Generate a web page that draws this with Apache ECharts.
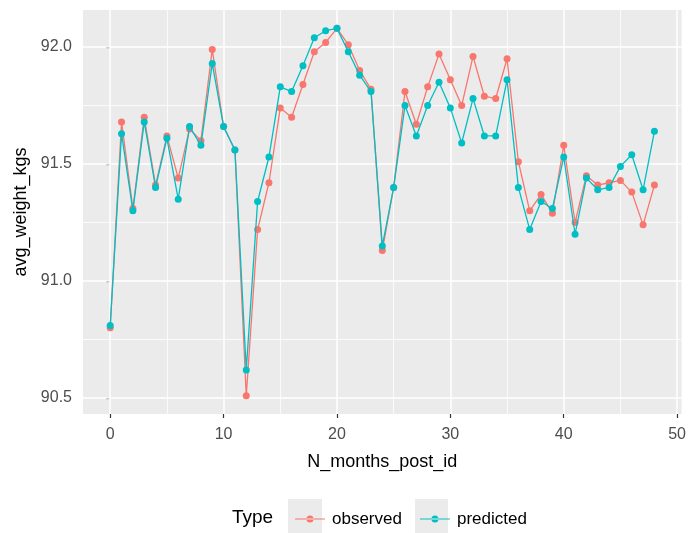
<!DOCTYPE html>
<html>
<head>
<meta charset="utf-8">
<script src="https://cdn.jsdelivr.net/npm/echarts@6/dist/echarts.min.js"></script>
<style>
html,body{margin:0;padding:0;background:#fff;}
#chart{width:689px;height:533px;}
</style>
</head>
<body>
<div id="chart"></div>
<script>
const months = [0,1,2,3,4,5,6,7,8,9,10,11,12,13,14,15,16,17,18,19,20,21,22,23,24,25,26,27,28,29,30,31,32,33,34,35,36,37,38,39,40,41,42,43,44,45,46,47,48];
const observed = [90.80,91.68,91.31,91.70,91.41,91.62,91.44,91.65,91.60,91.99,
  91.66,91.56,90.51,91.22,91.42,91.74,91.70,91.84,91.98,92.02,
  92.08,92.01,91.90,91.82,91.13,91.40,91.81,91.67,91.83,91.97,
  91.86,91.75,91.96,91.79,91.78,91.95,91.51,91.30,91.37,91.29,
  91.58,91.25,91.45,91.41,91.42,91.43,91.38,91.24,91.41];
const predicted = [90.81,91.63,91.30,91.68,91.40,91.61,91.35,91.66,91.58,91.93,
  91.66,91.56,90.62,91.34,91.53,91.83,91.81,91.92,92.04,92.07,
  92.08,91.98,91.88,91.81,91.15,91.40,91.75,91.62,91.75,91.85,
  91.74,91.59,91.78,91.62,91.62,91.86,91.40,91.22,91.34,91.31,
  91.53,91.20,91.44,91.39,91.40,91.49,91.54,91.39,91.64];
const xTicks = [0,10,20,30,40,50];
const xMinor = [5,15,25,35,45];
const yTicks = [90.5,91.0,91.5,92.0];
const yMinor = [90.75,91.25,91.75];
const seriesNames = ['observed','predicted'];
const seriesColors = ['#F8766D','#00BFC4'];

const allY = observed.concat(predicted);
const yMinD = Math.min(...allY), yMaxD = Math.max(...allY);
const yPad = (yMaxD - yMinD) * 0.05;
const xMinD = Math.min(...months), xMaxD = Math.max(...months);
const xPad = (xMaxD - xMinD) * 0.05;

const chart = echarts.init(document.getElementById('chart'), null, {renderer:'canvas'});
const font = 'Liberation Sans, Arial, sans-serif';
const mk = (vals) => months.map((m,i)=>[m, vals[i]]);

const gridLines = []
  .concat(xTicks.map(v=>({xAxis:v, lineStyle:{color:'#fff', width:1.5, type:'solid'}})))
  .concat(xMinor.map(v=>({xAxis:v, lineStyle:{color:'#fff', width:0.8, type:'solid'}})))
  .concat(yTicks.map(v=>({yAxis:v, lineStyle:{color:'#fff', width:1.5, type:'solid'}})))
  .concat(yMinor.map(v=>({yAxis:v, lineStyle:{color:'#fff', width:0.8, type:'solid'}})));

const axisCommon = {
  axisLine:{show:false},
  splitLine:{show:false},
  minorSplitLine:{show:false},
  nameTextStyle:{fontFamily:font, fontSize:18, color:'#000'}
};

chart.setOption({
  backgroundColor:'#ffffff',
  animation:false,
  grid:{left:83, right:6, top:10, bottom:119, show:true, backgroundColor:'#EBEBEB', borderWidth:0},
  xAxis:Object.assign({}, axisCommon, {
    type:'value', min:xMinD - xPad, max:xMaxD + xPad,
    name:'N_months_post_id', nameLocation:'middle', nameGap:39,
    axisTick:{show:true, length:4, lineStyle:{color:'#333', width:1.2}, customValues:xTicks},
    axisLabel:{fontFamily:font, fontSize:16, color:'#4D4D4D', margin:13, customValues:xTicks}
  }),
  yAxis:Object.assign({}, axisCommon, {
    type:'value', min:yMinD - yPad, max:yMaxD + yPad,
    name:'avg_weight_kgs', nameLocation:'middle', nameGap:43, nameRotate:90,
    axisTick:{show:true, length:4, lineStyle:{color:'#333', width:1.2}, customValues:yTicks},
    axisLabel:{fontFamily:font, fontSize:16, color:'#4D4D4D', margin:11, customValues:yTicks,
      formatter:(v)=>v.toFixed(1)}
  }),
  legend:{
    data:seriesNames, left:290, top:505, orient:'horizontal',
    icon:'path://M0,2.9 L30,2.9 L30,4.1 L0,4.1 Z M11.5,3.5 A3.5,3.5 0 1,0 18.5,3.5 A3.5,3.5 0 1,0 11.5,3.5 Z',
    itemWidth:30, itemHeight:7, itemGap:18,
    textStyle:{fontFamily:font, fontSize:17, color:'#000', padding:[0,0,0,2], lineHeight:18}
  },
  graphic:[
    {type:'rect', left:288, top:499, z:-1, shape:{width:34, height:34}, style:{fill:'#EBEBEB'}},
    {type:'rect', left:415, top:499, z:-1, shape:{width:33, height:34}, style:{fill:'#EBEBEB'}},
    {type:'text', x:232, y:518, style:{text:'Type', font:'19px Liberation Sans, Arial, sans-serif', fill:'#000', textVerticalAlign:'middle'}}
  ],
  series:[
    {name:'_grid', type:'line', data:[], z:1, silent:true,
      markLine:{silent:true, z:1, symbol:['none','none'], label:{show:false}, emphasis:{disabled:true}, animation:false, data:gridLines}},
    {name:seriesNames[0], type:'line', data:mk(observed), symbol:'circle', symbolSize:7,
      lineStyle:{color:seriesColors[0], width:1.3}, itemStyle:{color:seriesColors[0]}, z:2},
    {name:seriesNames[1], type:'line', data:mk(predicted), symbol:'circle', symbolSize:7,
      lineStyle:{color:seriesColors[1], width:1.3}, itemStyle:{color:seriesColors[1]}, z:3}
  ]
});
</script>
</body>
</html>
